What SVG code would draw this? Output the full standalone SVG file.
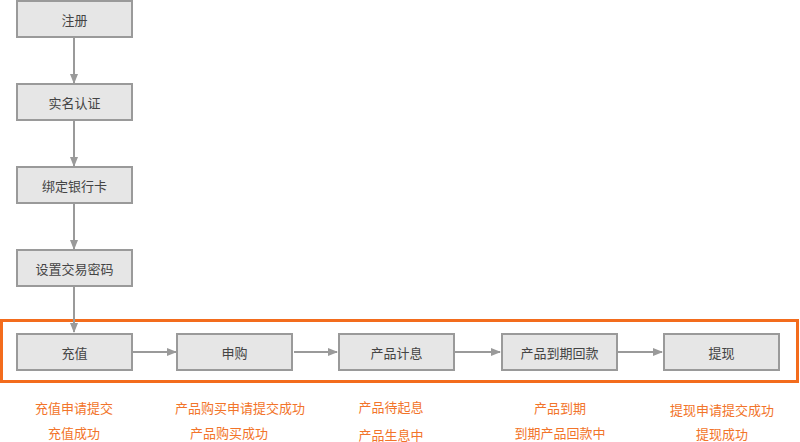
<svg xmlns="http://www.w3.org/2000/svg" width="800" height="442" viewBox="0 0 800 442">
<style>
.box{fill:#e6e6e6;stroke:#9a9a9a;stroke-width:2}
.t{font-family:"Noto Sans CJK SC","Noto Sans",sans-serif;font-size:13px;fill:#444;text-anchor:middle;dominant-baseline:central}
.o{font-family:"Noto Sans CJK SC","Noto Sans",sans-serif;font-size:13px;fill:#f2742a;text-anchor:middle;dominant-baseline:central}
.c{stroke:#9a9a9a;stroke-width:2;fill:none;marker-end:url(#ah)}
</style>
<defs>
<marker id="ah" markerWidth="10" markerHeight="8" refX="9" refY="4" orient="auto" markerUnits="userSpaceOnUse">
<path d="M0,0 L10,4 L0,8 z" fill="#9a9a9a"/>
</marker>
</defs>
<rect id="frame" x="1.5" y="320.5" width="796" height="61" fill="none" stroke="#f36c1d" stroke-width="3"/>
<g id="connectors">
<line class="c" x1="74" y1="38" x2="74" y2="83"/>
<line class="c" x1="74" y1="121" x2="74" y2="166"/>
<line class="c" x1="74" y1="204" x2="74" y2="249"/>
<line class="c" x1="74" y1="287" x2="74" y2="332"/>
<line class="c" x1="133" y1="352" x2="176" y2="352"/>
<line class="c" x1="294" y1="352" x2="337" y2="352"/>
<line class="c" x1="455" y1="352" x2="500" y2="352"/>
<line class="c" x1="618" y1="352" x2="662" y2="352"/>
</g>
<g id="n1"><rect class="box" x="17" y="1" width="115" height="36"/><text class="t" x="74.5" y="19">注册</text></g>
<g id="n2"><rect class="box" x="17" y="84" width="115" height="36"/><text class="t" x="74.5" y="102">实名认证</text></g>
<g id="n3"><rect class="box" x="17" y="167" width="115" height="36"/><text class="t" x="74.5" y="185">绑定银行卡</text></g>
<g id="n4"><rect class="box" x="17" y="250" width="115" height="36"/><text class="t" x="74.5" y="268">设置交易密码</text></g>
<g id="n5"><rect class="box" x="17" y="334" width="115" height="36"/><text class="t" x="74.5" y="352">充值</text></g>
<g id="n6"><rect class="box" x="177" y="334" width="115" height="36"/><text class="t" x="234.5" y="352">申购</text></g>
<g id="n7"><rect class="box" x="339" y="334" width="115" height="36"/><text class="t" x="396.5" y="352">产品计息</text></g>
<g id="n8"><rect class="box" x="502" y="334" width="115" height="36"/><text class="t" x="559.5" y="352">产品到期回款</text></g>
<g id="n9"><rect class="box" x="664" y="334" width="115" height="36"/><text class="t" x="721.5" y="352">提现</text></g>
<g id="labels">
<text class="o" x="74" y="407">充值申请提交</text>
<text class="o" x="74" y="432">充值成功</text>
<text class="o" x="240" y="407">产品购买申请提交成功</text>
<text class="o" x="229" y="432">产品购买成功</text>
<text class="o" x="391" y="406">产品待起息</text>
<text class="o" x="391" y="434">产品生息中</text>
<text class="o" x="560" y="407">产品到期</text>
<text class="o" x="560" y="432">到期产品回款中</text>
<text class="o" x="722" y="409">提现申请提交成功</text>
<text class="o" x="722" y="433">提现成功</text>
</g>
</svg>
